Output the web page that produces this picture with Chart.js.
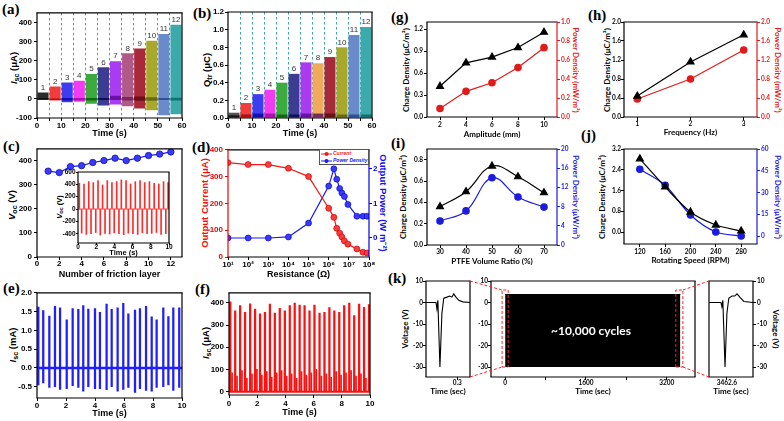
<!DOCTYPE html>
<html>
<head>
<meta charset="utf-8">
<title>TENG output</title>
<script src="https://cdn.jsdelivr.net/npm/chart.js@4.4.1/dist/chart.umd.min.js"></script>
<style>
  body { margin:0; width:784px; height:421px; position:relative; overflow:hidden; background:#fff; font-family:'Liberation Sans', Arial, sans-serif; }
  .p { position:absolute; }
  .lab { position:absolute; font:bold 15px 'Liberation Serif', 'Times New Roman', serif; line-height:15px; }
  .yl, .yr { position:absolute; white-space:nowrap; font-weight:bold; line-height:1; }
  .yl { transform:translate(-50%,-50%) rotate(-90deg); }
  .yr { transform:translate(-50%,-50%) rotate(90deg); }
  .o { font-size:9.5px; }
  .c { font-family:Lato, sans-serif; font-size:8px; }
  sub { font-size:75%; vertical-align:-0.2em; line-height:0; }
  #legD { position:absolute; left:319px; top:149px; width:50px; height:16px; border:1px solid #555; background:#fff;
          font:italic bold 5px 'Liberation Sans', Arial, sans-serif; line-height:7px; box-sizing:border-box; padding:0 0 0 1px; white-space:nowrap; overflow:hidden; }
  #legD svg { vertical-align:middle; margin-right:1px; }
  #cyc { position:absolute; left:591px; top:330px; transform:translate(-50%,-50%); color:#fff; font:bold 12px Lato, sans-serif; white-space:nowrap; }
</style>
</head>
<body>
<div class="lab" style="left:2px;top:2px">(a)</div>
<div class="lab" style="left:193px;top:6px">(b)</div>
<div class="lab" style="left:3px;top:139px">(c)</div>
<div class="lab" style="left:192px;top:140px">(d)</div>
<div class="lab" style="left:3px;top:281px">(e)</div>
<div class="lab" style="left:195px;top:282px">(f)</div>
<div class="lab" style="left:391px;top:10px">(g)</div>
<div class="lab" style="left:588px;top:8px">(h)</div>
<div class="lab" style="left:391px;top:136px">(i)</div>
<div class="lab" style="left:581px;top:128px">(j)</div>
<div class="lab" style="left:388px;top:271px">(k)</div>

<div class="yl o" style="left:14px;top:68px"><i>I</i><sub>sc</sub> (μA)</div>
<div class="yl o" style="left:207px;top:70px">Q<sub>tr</sub> (μC)</div>
<div class="yl o" style="left:12px;top:205px"><i>V</i><sub>oc</sub> (V)</div>
<div class="yl" style="left:60px;top:207px;font-size:7.5px"><i>V</i><sub>oc</sub> (V)</div>
<div class="yl o" style="left:205px;top:203px;color:#f01010">Output Current (μA)</div>
<div class="yr o" style="left:383px;top:203px;color:#1010f0">Output Power (W m⁻²)</div>
<div class="yl o" style="left:13px;top:345px"><i>I</i><sub>sc</sub> (mA)</div>
<div class="yl o" style="left:206px;top:343px"><i>I</i><sub>sc</sub> (μA)</div>
<div class="yl c" style="left:406px;top:70px">Charge Density (μC/m²)</div>
<div class="yr c" style="left:576px;top:70px;color:#e01b1b">Power Density (mW/m²)</div>
<div class="yl c" style="left:607px;top:70px">Charge Density (μC/m²)</div>
<div class="yr c" style="left:778px;top:70px;color:#e01b1b">Power Density (mW/m²)</div>
<div class="yl c" style="left:403px;top:197px">Charge Density (μC/m²)</div>
<div class="yr c" style="left:576px;top:197px;color:#1b1be0">Power Density (μW/m²)</div>
<div class="yl c" style="left:602px;top:197px">Charge Density (μC/m²)</div>
<div class="yr c" style="left:778px;top:197px;color:#1b1be0">Power Density (μW/m²)</div>
<div class="yl c" style="left:405px;top:329px">Voltage (V)</div>
<div class="yr c" style="left:776px;top:329px">Voltage (V)</div>

<script>
// (a), (b): friction layers switched on every 5 s
const layerLabel = ['1','2','3','4','5','6','7','8','9','10','11','12'];
const layerTime = [2.5, 7.5, 12.5, 17.5, 22.5, 27.5, 32.5, 37.5, 42.5, 47.5, 52.5, 57.5];
const layerEdges = [0, 5, 10, 15, 20, 25, 30, 35, 40, 45, 50, 55, 60];
const iscTop = [33, 65, 85, 95, 130, 165, 197, 238, 264, 304, 339, 387];
const iscBottom = [-5, -8, -18, -15, -25, -35, -30, -38, -50, -60, -85, -80];
const iscBandLo = [-4, -6, -8, -8, -8, -6, -6, -8, -10, -10, -6, -8];
const iscBandHi = [4, 2, 4, 4, 4, 4, 16, 10, 12, 8, 4, 6];
const qtrTop = [0.06, 0.17, 0.27, 0.32, 0.40, 0.50, 0.63, 0.62, 0.69, 0.80, 0.94, 1.03];
const qtrBand = [0.03, 0.04, 0.05, 0.05, 0.04, 0.04, 0.05, 0.05, 0.05, 0.04, 0.04, 0.04];

// (c)
const frictionLayers = [1, 2, 3, 4, 5, 6, 7, 8, 9, 10, 11, 12];
const vocLayers = [357, 351, 376, 380, 393, 401, 411, 401, 411, 422, 428, 437];
const cPeakTime = [0.15, 0.66, 1.18, 1.68, 2.2, 2.7, 3.22, 3.73, 4.25, 4.76, 5.28, 5.78, 6.3, 6.82, 7.33, 7.85, 8.37, 8.88, 9.4, 9.9];
const cPeak = [418, 406, 444, 428, 460, 390, 460, 428, 444, 472, 460, 406, 444, 460, 428, 444, 418, 406, 444, 428];
const cTroughTime = [0.4, 0.92, 1.43, 1.95, 2.45, 2.97, 3.48, 3.98, 4.5, 5.02, 5.53, 6.04, 6.56, 7.07, 7.59, 8.1, 8.62, 9.13, 9.65];
const cTrough = [-390, -410, -400, -380, -420, -395, -405, -385, -400, -415, -390, -400, -410, -385, -400, -395, -380, -410, -400];

// (d)
const resistance = [10, 100, 1e3, 1e4, 1e5, 1e6, 1.8e6, 2.5e6, 3.5e6, 4.5e6, 6e6, 9e6, 2.5e7, 5e7, 8e7];
const outCurrent = [352, 345, 345, 331, 300, 182, 148, 107, 89, 75, 60, 48, 30, 18, 15];
const outPower = [0, 0, 0, 0.03, 0.43, 1.5, 2.0, 1.7, 1.43, 1.3, 1.2, 0.97, 0.63, 0.63, 0.63];
const resTicks = [10, 100, 1e3, 1e4, 1e5, 1e6, 1e7, 1e8];

// (e)
const eTime = [0.09, 0.43, 0.85, 1.24, 1.59, 2.05, 2.46, 2.85, 3.19, 3.54, 4.0, 4.34, 4.8, 5.15, 5.56, 5.95, 6.3, 6.76, 7.1, 7.52, 7.91, 8.25, 8.71, 9.06, 9.4, 9.81];
const ePeak = [1.62, 1.53, 1.38, 1.64, 1.60, 1.28, 1.58, 1.56, 1.66, 1.57, 1.58, 1.48, 1.70, 1.56, 1.60, 1.72, 1.44, 1.54, 1.58, 1.64, 1.36, 1.28, 1.60, 1.37, 1.60, 1.60];
const eTrough = [-0.45, -0.40, -0.52, -0.50, -0.57, -0.55, -0.47, -0.52, -0.62, -0.50, -0.55, -0.55, -0.58, -0.50, -0.62, -0.57, -0.52, -0.65, -0.55, -0.60, -0.62, -0.52, -0.50, -0.45, -0.60, -0.52];
const eSpan = [0, 10];

// (f)
const fTime = [0.09, 0.44, 0.79, 1.14, 1.50, 1.85, 2.20, 2.55, 2.90, 3.25, 3.60, 3.96, 4.31, 4.66, 5.01, 5.36, 5.71, 6.06, 6.42, 6.77, 7.12, 7.47, 7.82, 8.17, 8.53, 8.88, 9.23, 9.58, 9.93];
const fPeak = [404, 364, 387, 357, 395, 372, 350, 357, 394, 354, 375, 364, 387, 399, 390, 387, 364, 390, 354, 357, 379, 364, 357, 387, 399, 342, 394, 380, 392];
const fMinorTime = [0.22, 0.57, 0.92, 1.27, 1.63, 1.98, 2.33, 2.68, 3.03, 3.38, 3.73, 4.09, 4.44, 4.79, 5.14, 5.49, 5.84, 6.19, 6.55, 6.90, 7.25, 7.60, 7.95, 8.30, 8.66, 9.01, 9.36, 9.71];
const fMinor = [85, 70, 95, 60, 80, 100, 75, 90, 65, 85, 95, 70, 80, 60, 90, 75, 85, 100, 70, 80, 65, 90, 75, 85, 95, 70, 80, 60];

// (g) - (j)
const amplitude = [2, 4, 6, 8, 10];
const gCharge = [0.42, 0.74, 0.82, 0.95, 1.16];
const gPower = [0.09, 0.27, 0.36, 0.52, 0.73];
const frequency = [1, 2, 3];
const hCharge = [0.44, 1.16, 1.73];
const hPower = [0.38, 0.80, 1.41];
const ptfeRatio = [30, 40, 50, 60, 70];
const iCharge = [0.36, 0.50, 0.74, 0.64, 0.49];
const iPower = [5.0, 7.1, 14.0, 10.0, 7.9];
const rpm = [120, 160, 200, 240, 280];
const jCharge = [2.82, 1.74, 0.77, 0.27, 0.04];
const jPower = [46, 35, 14.5, 2.8, 0];

// (k) durability
const kStartT = [0.200, 0.232, 0.235, 0.238, 0.2446, 0.251, 0.257, 0.267, 0.276, 0.283, 0.289, 0.296, 0.305, 0.318, 0.341];
const kStartV = [0, 0, -3, 1, -30, -5, 2, 2.5, 3, 2.5, 4, 2.5, 1, 0.3, 0];
const kEndT = [3462.543, 3462.581, 3462.584, 3462.587, 3462.594, 3462.600, 3462.606, 3462.616, 3462.625, 3462.632, 3462.641, 3462.654, 3462.683];
const kEndV = [0, 0, -2, 1, -30, -5, 2, 3, 3, 4, 2.5, 0.5, 0];
const kRun = [0, 3470];
const kEnvelope = [-30, 3.7];
const kWindows = [[-60, 60], [3380, 3520]];
const kWindowV = [-30, 5.8];
const kVoltTicks = [-30, -20, -10, 0, 10];

const segColA = ['#2c2c2c','#f03c3c','#3c3cf0','#f03cf0','#3caa3c','#3c3c92','#aa3cf0','#b05a8a','#a82a3a','#a8a82a','#6a8aca','#3caaaa'];
const segColB = ['#555555','#f03c3c','#3c3cf0','#f03cf0','#3caa3c','#3c3c92','#aa3cf0','#f0aa5a','#a82a3a','#a8a82a','#6a8aca','#3caaaa'];
const bandCol = ['#111111','#b01010','#1010b0','#b010b0','#106a10','#10105a','#6a10a8','#7a2a5a','#6a1018','#6a6a10','#30509a','#107272'];
const RED = '#f01a1a', BLUE = '#1a1af0', TEAL = '#3aa8a8';

Chart.defaults.font.family = "'Liberation Sans', Arial, sans-serif";
Chart.defaults.font.size = 8;
Chart.defaults.font.weight = 'bold';
Chart.defaults.color = '#000';
Chart.defaults.animation = false;
Chart.defaults.events = [];
Chart.defaults.plugins.legend.display = false;
Chart.defaults.plugins.tooltip.enabled = false;
Chart.defaults.elements.line.tension = 0;

// box round the plot area, side colours per chart
Chart.register({
  id: 'frame',
  afterDraw(chart, args, o) {
    const {ctx, chartArea: a} = chart;
    const side = (col, x1, y1, x2, y2) => {
      ctx.strokeStyle = col; ctx.beginPath(); ctx.moveTo(x1, y1); ctx.lineTo(x2, y2); ctx.stroke();
    };
    ctx.save();
    ctx.lineWidth = o.width || 1.2;
    side(o.top || '#000', a.left - 0.6, a.top, a.right + 0.6, a.top);
    side(o.bottom || '#000', a.left - 0.6, a.bottom, a.right + 0.6, a.bottom);
    side(o.left || '#000', a.left, a.top, a.left, a.bottom);
    side(o.right || '#000', a.right, a.top, a.right, a.bottom);
    ctx.restore();
  }
});

// small numbers above the bars of (a) and (b)
Chart.register({
  id: 'barText',
  afterDatasetsDraw(chart, args, o) {
    if (!o.labels) return;
    const {ctx} = chart;
    ctx.save();
    ctx.font = "8px 'Liberation Sans', Arial, sans-serif";
    ctx.fillStyle = '#333';
    ctx.textAlign = 'center';
    ctx.textBaseline = 'bottom';
    chart.getDatasetMeta(o.ds).data.forEach((el, i) => ctx.fillText(o.labels[i], el.x, el.y - 1));
    ctx.restore();
  }
});

function panel(box, pad, cfg) {
  const [l, t, r, b] = box, [pl, pt, pr, pb] = pad;
  const d = document.createElement('div');
  d.className = 'p';
  d.style.left = (l - pl) + 'px';
  d.style.top = (t - pt) + 'px';
  d.style.width = (r - l + pl + pr) + 'px';
  d.style.height = (b - t + pt + pb) + 'px';
  const c = document.createElement('canvas');
  d.appendChild(c);
  document.body.appendChild(d);
  const o = cfg.options;
  o.responsive = true;
  o.maintainAspectRatio = false;
  const used = {};
  const size = {left: pl, right: pr, top: pt, bottom: pb};
  Object.values(o.scales).forEach(s => {
    used[s.position] = true;
    s.afterFit = sc => {
      if (s.position === 'left' || s.position === 'right') sc.width = size[s.position];
      else sc.height = size[s.position];
    };
  });
  o.layout = {padding: {
    left: used.left ? 0 : pl, right: used.right ? 0 : pr,
    top: used.top ? 0 : pt, bottom: used.bottom ? 0 : pb
  }};
  return new Chart(c, cfg);
}

function ax(pos, min, max, tickVals, opt = {}) {
  const col = opt.color || '#000';
  const font = {size: opt.fs || 8};
  if (opt.ff) font.family = opt.ff;
  const tfont = {size: opt.tfs || 9};
  if (opt.ff) tfont.family = opt.ff;
  return {
    type: opt.type || 'linear', position: pos, min, max, offset: false,
    afterBuildTicks: s => { s.ticks = tickVals.map(v => ({value: v})); },
    grid: {drawOnChartArea: false, drawTicks: true, tickLength: opt.tl || 3, tickColor: col, tickWidth: 1, offset: false},
    border: {display: false},
    ticks: {color: col, padding: opt.pad ?? 1, font, callback: opt.fmt || (v => v), maxRotation: 0, autoSkip: false},
    title: opt.title ? {display: true, text: opt.title, color: col, padding: 0, font: tfont} : {display: false}
  };
}
const f1 = v => v.toFixed(1);
const pts = (xs, ys) => xs.map((x, i) => ({x, y: ys[i]}));

function layerAxis() {
  const a = ax('bottom', 0, 60, layerEdges, {title: 'Time (s)', pad: 0, fmt: v => (v % 10 ? '' : v)});
  a.grid.drawOnChartArea = true;
  a.grid.color = c => (c.tick && c.tick.value > 0 && c.tick.value < 60) ? TEAL : 'rgba(0,0,0,0)';
  a.border.dash = [2.5, 2.5];
  return a;
}

// (a)
panel([37, 12, 182, 118], [37, 6, 8, 21], {
  type: 'bar',
  data: {datasets: [
    {data: layerTime.map((x, i) => ({x, y: [iscBandLo[i], iscBandHi[i]]})), backgroundColor: bandCol, grouped: false, barPercentage: 0.92, categoryPercentage: 1},
    {data: layerTime.map((x, i) => ({x, y: [iscBottom[i], iscTop[i]]})), backgroundColor: segColA, grouped: false, barPercentage: 0.92, categoryPercentage: 1}
  ]},
  options: {
    scales: {x: layerAxis(), y: ax('left', -100, 450, [-100, 0, 100, 200, 300, 400], {pad: 2})},
    plugins: {barText: {labels: layerLabel, ds: 1}}
  }
});

// (b)
panel([228, 12, 372, 118], [30, 6, 10, 21], {
  type: 'bar',
  data: {datasets: [
    {data: layerTime.map((x, i) => ({x, y: [0, qtrBand[i]]})), backgroundColor: bandCol, grouped: false, barPercentage: 0.92, categoryPercentage: 1},
    {data: layerTime.map((x, i) => ({x, y: [0, qtrTop[i]]})), backgroundColor: segColB, grouped: false, barPercentage: 0.92, categoryPercentage: 1}
  ]},
  options: {
    scales: {x: layerAxis(), y: ax('left', 0, 1.2, [0, 0.2, 0.4, 0.6, 0.8, 1.0, 1.2], {pad: 1, fmt: f1})},
    plugins: {barText: {labels: layerLabel, ds: 1}}
  }
});

// (c)
panel([37, 148, 182, 257], [37, 6, 8, 23], {
  type: 'line',
  data: {datasets: [{
    data: pts(frictionLayers, vocLayers), borderColor: BLUE, borderWidth: 1.2,
    pointRadius: 3.2, pointBackgroundColor: '#3a3aff', pointBorderColor: '#1414a0', pointBorderWidth: 0.8
  }]},
  options: {scales: {
    x: ax('bottom', 0, 13, [0, 2, 4, 6, 8, 10, 12], {title: 'Number of friction layer', pad: -1}),
    y: ax('left', 0, 450, [0, 100, 200, 300, 400], {pad: 2})
  }}
});

// (c) inset
panel([78, 172, 169, 243], [22, 5, 6, 14], {
  type: 'bar',
  data: {datasets: [
    {type: 'line', data: pts([0, 10], [0, 0]), borderColor: '#ff3030', borderWidth: 1, pointRadius: 0},
    {data: cPeakTime.map((x, i) => ({x, y: [0, cPeak[i]]})), backgroundColor: '#ff2a2a', barThickness: 1, grouped: false},
    {data: cTroughTime.map((x, i) => ({x, y: [cTrough[i], 0]})), backgroundColor: '#ff2a2a', barThickness: 1, grouped: false}
  ]},
  options: {scales: {
    x: ax('bottom', 0, 10, [0, 2, 4, 6, 8, 10], {title: 'Time (s)', fs: 6.5, tfs: 7.5, tl: 2, pad: -2}),
    y: ax('left', -550, 600, [-400, -200, 0, 200, 400, 600], {fs: 6.5, tl: 2, pad: 0.5})
  }}
});

// (d)
const sup = ['⁰','¹','²','³','⁴','⁵','⁶','⁷','⁸','⁹'];
panel([228, 149, 369, 257], [30, 6, 12, 23], {
  type: 'line',
  data: {datasets: [
    {data: pts(resistance, outCurrent), yAxisID: 'y', borderColor: RED, borderWidth: 1.2,
     pointRadius: 3, pointBackgroundColor: '#ff3a3a', pointBorderColor: '#b00000', pointBorderWidth: 0.6},
    {data: pts(resistance, outPower), yAxisID: 'y2', borderColor: BLUE, borderWidth: 1.2,
     pointRadius: 3, pointBackgroundColor: '#3a3aff', pointBorderColor: '#0000b0', pointBorderWidth: 0.6}
  ]},
  options: {
    scales: {
      x: ax('bottom', 10, 1e8, resTicks, {type: 'logarithmic', title: 'Resistance (Ω)', pad: 0, fmt: v => '10' + sup[Math.round(Math.log10(v))]}),
      y: ax('left', 0, 400, [0, 100, 200, 300, 400], {color: '#f00000', pad: 2}),
      y2: ax('right', -0.55, 2.55, [0, 1, 2], {color: '#0000f0', pad: 1})
    },
    plugins: {frame: {left: '#f00000', right: '#0000f0'}}
  }
});

// (e)
panel([37, 292, 182, 398], [37, 6, 8, 21], {
  type: 'bar',
  data: {datasets: [
    {type: 'line', data: pts(eSpan, [0, 0]), borderColor: '#1f1fff', borderWidth: 2.5, pointRadius: 0},
    {data: eTime.map((x, i) => ({x, y: [eTrough[i], ePeak[i]]})), backgroundColor: '#1f1fff', barThickness: 1.6, grouped: false}
  ]},
  options: {scales: {
    x: ax('bottom', 0, 10, [0, 2, 4, 6, 8, 10], {title: 'Time (s)', pad: 0}),
    y: ax('left', -0.8, 2.0, [-0.5, 0, 0.5, 1.0, 1.5, 2.0], {pad: 2, fmt: f1})
  }}
});

// (f)
panel([229, 292, 370, 395], [30, 6, 10, 23], {
  type: 'bar',
  data: {datasets: [
    {type: 'line', data: pts(eSpan, [0, 0]), borderColor: '#ff1010', borderWidth: 2, pointRadius: 0},
    {data: fTime.map((x, i) => ({x, y: [0, fPeak[i]]})), backgroundColor: '#ff1010', barThickness: 1.6, grouped: false},
    {data: fMinorTime.map((x, i) => ({x, y: [0, fMinor[i]]})), backgroundColor: '#ff1010', barThickness: 1, grouped: false}
  ]},
  options: {scales: {
    x: ax('bottom', 0, 10, [0, 2, 4, 6, 8, 10], {title: 'Time (s)', pad: 1}),
    y: ax('left', -15, 445, [0, 100, 200, 300, 400], {pad: 2})
  }}
});

// (g) - (j): charge density (left) and power density (right)
function dual(box, pad, xs, yl, yr, xAxis, yAxis, y2Axis, col) {
  return panel(box, pad, {
    type: 'line',
    data: {datasets: [
      {data: pts(xs, yl), yAxisID: 'y', borderColor: '#000', borderWidth: 1.2, pointStyle: 'triangle',
       pointRadius: 4, pointBackgroundColor: '#000', pointBorderColor: '#000', tension: xAxis.tension || 0},
      {data: pts(xs, yr), yAxisID: 'y2', borderColor: col, borderWidth: 1.2,
       pointRadius: 3.2, pointBackgroundColor: col, pointBorderColor: col, tension: xAxis.tension || 0}
    ]},
    options: {scales: {x: xAxis, y: yAxis, y2: y2Axis}, plugins: {frame: {right: col}}}
  });
}
const C = {ff: 'Lato', fs: 6.5, tfs: 8};
const GRED = '#e01b1b', GBLUE = '#1b1be0';

dual([427, 22, 557, 117], [20, 6, 14, 22], amplitude, gCharge, gPower,
  ax('bottom', 1, 11, [2, 4, 6, 8, 10], {...C, title: 'Amplitude (mm)', pad: 1}),
  ax('left', 0, 1.3, [0, 0.3, 0.6, 0.9, 1.2], {...C, pad: 1, fmt: f1}),
  ax('right', 0, 1.0, [0, 0.2, 0.4, 0.6, 0.8, 1.0], {...C, color: GRED, pad: 1, fmt: f1}), GRED);

dual([624, 22, 757, 117], [20, 6, 14, 20], frequency, hCharge, hPower,
  ax('bottom', 0.75, 3.25, [1, 2, 3], {...C, title: 'Frequency (Hz)', pad: 0}),
  ax('left', 0, 2.0, [0, 0.4, 0.8, 1.2, 1.6, 2.0], {...C, pad: 0, fmt: f1}),
  ax('right', 0, 2.0, [0, 0.4, 0.8, 1.2, 1.6, 2.0], {...C, color: GRED, pad: 1, fmt: f1}), GRED);

const xi = ax('bottom', 25, 75, [30, 40, 50, 60, 70], {...C, title: 'PTFE Volume Ratio (%)', pad: 0});
xi.tension = 0.4;
dual([427, 149, 557, 245], [20, 6, 14, 21], ptfeRatio, iCharge, iPower, xi,
  ax('left', 0, 0.9, [0, 0.2, 0.4, 0.6, 0.8], {...C, pad: 1, fmt: f1}),
  ax('right', 0, 20, [0, 4, 8, 12, 16, 20], {...C, color: GBLUE, pad: 1}), GBLUE);

const xj = ax('bottom', 95, 305, [120, 160, 200, 240, 280], {...C, title: 'Rotating Speed (RPM)', pad: 1});
xj.tension = 0.3;
dual([624, 149, 757, 244], [20, 6, 14, 21], rpm, jCharge, jPower, xj,
  ax('left', -0.46, 3.2, [0, 0.8, 1.6, 2.4, 3.2], {...C, pad: 0, fmt: f1}),
  ax('right', -5.5, 60, [0, 15, 30, 45, 60], {...C, color: GBLUE, pad: 1}), GBLUE);

// (k)
const kL = panel([426, 281, 470, 377], [20, 6, 4, 19], {
  type: 'line',
  data: {datasets: [{data: pts(kStartT, kStartV), borderColor: '#000', borderWidth: 1.1, pointRadius: 0}]},
  options: {scales: {
    x: ax('bottom', 0.2, 0.341, [0.3], {...C, title: 'Time (sec)', pad: -1}),
    y: ax('left', -34.65, 10, kVoltTicks, {...C, pad: 0})
  }}
});

const kM = panel([491, 281, 695, 377], [20, 6, 8, 19], {
  type: 'line',
  data: {datasets: [
    ...kWindows.map(w => ({
      data: pts([w[0], w[1], w[1], w[0], w[0]], [kWindowV[0], kWindowV[0], kWindowV[1], kWindowV[1], kWindowV[0]]),
      borderColor: '#ff2020', borderWidth: 1, borderDash: [3, 2], pointRadius: 0
    })),
    {data: pts(kRun, [kEnvelope[1], kEnvelope[1]]), fill: {value: kEnvelope[0]},
     backgroundColor: '#000', borderColor: '#000', borderWidth: 1, pointRadius: 0}
  ]},
  options: {scales: {
    x: ax('bottom', -280, 3760, [0, 800, 1600, 2400, 3200], {...C, title: 'Time (sec)', pad: -1, fmt: v => (v % 1600 ? '' : v)}),
    y: ax('left', -34.65, 10, kVoltTicks, {...C, pad: 0})
  }}
});

const kR = panel([709, 281, 753, 377], [4, 6, 20, 19], {
  type: 'line',
  data: {datasets: [{data: pts(kEndT, kEndV), borderColor: '#000', borderWidth: 1.1, pointRadius: 0}]},
  options: {scales: {
    x: ax('bottom', 3462.543, 3462.683, [3462.6], {...C, title: 'Time (sec)', pad: -1}),
    y: ax('right', -34.65, 10, kVoltTicks, {...C, pad: 1})
  }}
});

// dashed red guides from the zoom windows to the two insets
(function () {
  const ov = document.createElement('canvas');
  ov.width = 784; ov.height = 421;
  ov.style.cssText = 'position:absolute;left:0;top:0;pointer-events:none';
  document.body.appendChild(ov);
  const g = ov.getContext('2d');
  const at = (ch, x, y) => {
    const r = ch.canvas.getBoundingClientRect();
    return [r.left + ch.scales.x.getPixelForValue(x), r.top + ch.scales.y.getPixelForValue(y)];
  };
  const corner = (ch, sx, sy) => {
    const r = ch.canvas.getBoundingClientRect();
    return [r.left + ch.chartArea[sx], r.top + ch.chartArea[sy]];
  };
  g.strokeStyle = '#ff2020'; g.lineWidth = 1; g.setLineDash([3, 2]);
  [
    [corner(kL, 'right', 'top'), at(kM, kWindows[0][0], kWindowV[1])],
    [corner(kL, 'right', 'bottom'), at(kM, kWindows[0][0], kWindowV[0])],
    [at(kM, kWindows[1][1], kWindowV[1]), corner(kR, 'left', 'top')],
    [at(kM, kWindows[1][1], kWindowV[0]), corner(kR, 'left', 'bottom')]
  ].forEach(([a, b]) => { g.beginPath(); g.moveTo(a[0], a[1]); g.lineTo(b[0], b[1]); g.stroke(); });
})();
</script>

<div id="legD">
  <div style="color:#f01a1a"><svg width="11" height="6"><line x1="0" y1="3" x2="11" y2="3" stroke="#f01a1a"/><circle cx="5.5" cy="3" r="2" fill="#f01a1a"/></svg>Current</div>
  <div style="color:#1a1af0"><svg width="11" height="6"><line x1="0" y1="3" x2="11" y2="3" stroke="#1a1af0"/><circle cx="5.5" cy="3" r="2" fill="#1a1af0"/></svg>Power Density</div>
</div>
<div id="cyc">~10,000 cycles</div>
</body>
</html>
